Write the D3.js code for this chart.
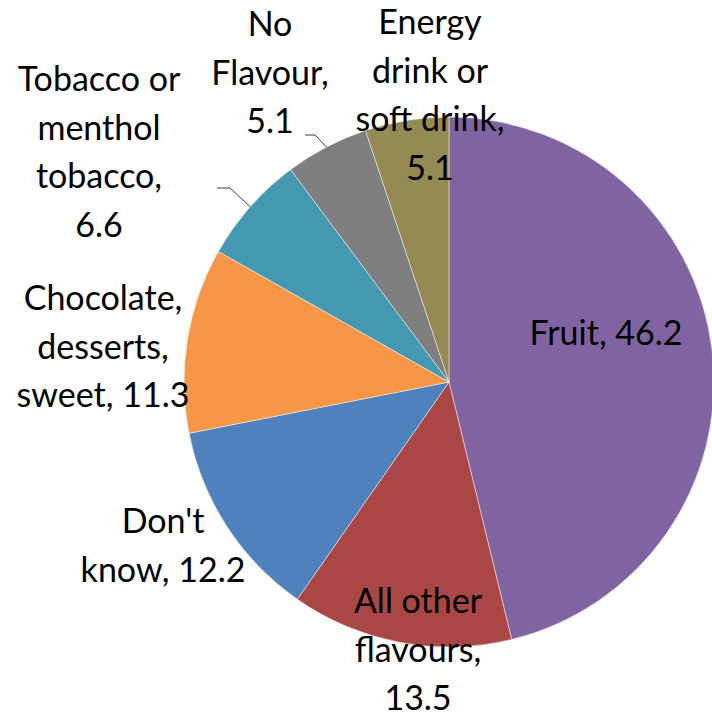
<!DOCTYPE html>
<html>
<head>
<meta charset="utf-8">
<script src="https://cdn.jsdelivr.net/npm/d3@7"></script>
<style>
  html, body { margin: 0; padding: 0; background: #fff; }
  svg { display: block; }
  text { font-family: Lato, "Open Sans", "Liberation Sans", sans-serif; fill: #000; }
</style>
</head>
<body>
<svg id="chart" width="712" height="718"></svg>
<script>
// Flavour shares (%), clockwise from 12 o'clock
const categories = [
  "Fruit",
  "All other flavours",
  "Don't know",
  "Chocolate, desserts, sweet",
  "Tobacco or menthol tobacco",
  "No Flavour",
  "Energy drink or soft drink"
];
const values = [46.2, 13.5, 12.2, 11.3, 6.6, 5.1, 5.1];

// How each category name is broken into lines on its label
const nameLines = [
  ["Fruit"],
  ["All other", "flavours"],
  ["Don't", "know"],
  ["Chocolate,", "desserts,", "sweet"],
  ["Tobacco or", "menthol", "tobacco"],
  ["No", "Flavour"],
  ["Energy", "drink or", "soft drink"]
];
// Whether the value sits on its own line below the name
const valueOnOwnLine = [false, true, false, false, true, true, true];

const colors = ["#8064A2", "#AA4744", "#4F81BD", "#F79646", "#4499B0", "#7F7F7F", "#948A54"];

// ---- layout ----
const width = 712, height = 718;
const cx = 449, cy = 382, radius = 265;
const fontSize = 34, lineHeight = 48.5;

// Label block placement relative to the pie centre: centre x and first baseline y
const labelPos = [
  { dx: 157, dy: -37 },
  { dx: -31, dy: 231 },
  { dx: -286, dy: 151 },
  { dx: -346, dy: -72 },
  { dx: -350, dy: -291 },
  { dx: -179, dy: -346 },
  { dx: -19, dy: -348 }
];
// Leader lines (elbow and end points relative to the centre) for the small outside labels
const leaders = {
  4: { elbow: [-219, -194], end: [-232, -194] },
  5: { elbow: [-134, -247], end: [-144, -247] }
};

const data = categories.map((c, i) => ({
  name: c, value: values[i], lines: nameLines[i], own: valueOnOwnLine[i], i
}));

const svg = d3.select("#chart");
const g = svg.append("g").attr("transform", `translate(${cx},${cy})`);

const pie = d3.pie().value(d => d.value).sort(null);
const arc = d3.arc().innerRadius(0).outerRadius(radius);
const arcs = pie(data);

g.selectAll("path.slice")
  .data(arcs)
  .join("path")
  .attr("class", "slice")
  .attr("d", arc)
  .attr("fill", d => colors[d.data.i])
  .attr("stroke", "#ffffff")
  .attr("stroke-opacity", 0.6)
  .attr("stroke-width", 0.8);

// Leader lines from the slice edge to the label
const fmt = d3.format(".1f");
arcs.forEach(a => {
  const L = leaders[a.data.i];
  if (!L) return;
  const mid = (a.startAngle + a.endAngle) / 2;
  const edge = [radius * Math.sin(mid), -radius * Math.cos(mid)];
  g.append("polyline")
    .attr("points", [edge, L.elbow, L.end].map(p => p.join(",")).join(" "))
    .attr("fill", "none")
    .attr("stroke", "#3a3a3a")
    .attr("stroke-width", 1);
});

// Labels
arcs.forEach(a => {
  const d = a.data;
  const p = labelPos[d.i];
  const lines = d.lines.slice();
  const last = lines.length - 1;
  const valTxt = fmt(d.value);
  if (d.own) {
    lines[last] = lines[last] + ",";
    lines.push(valTxt);
  } else {
    lines[last] = lines[last] + ", " + valTxt;
  }
  const t = g.append("text")
    .attr("text-anchor", "middle")
    .attr("font-size", fontSize);
  lines.forEach((ln, k) => {
    t.append("tspan")
      .attr("x", p.dx)
      .attr("y", p.dy + k * lineHeight)
      .text(ln);
  });
});
</script>
</body>
</html>
